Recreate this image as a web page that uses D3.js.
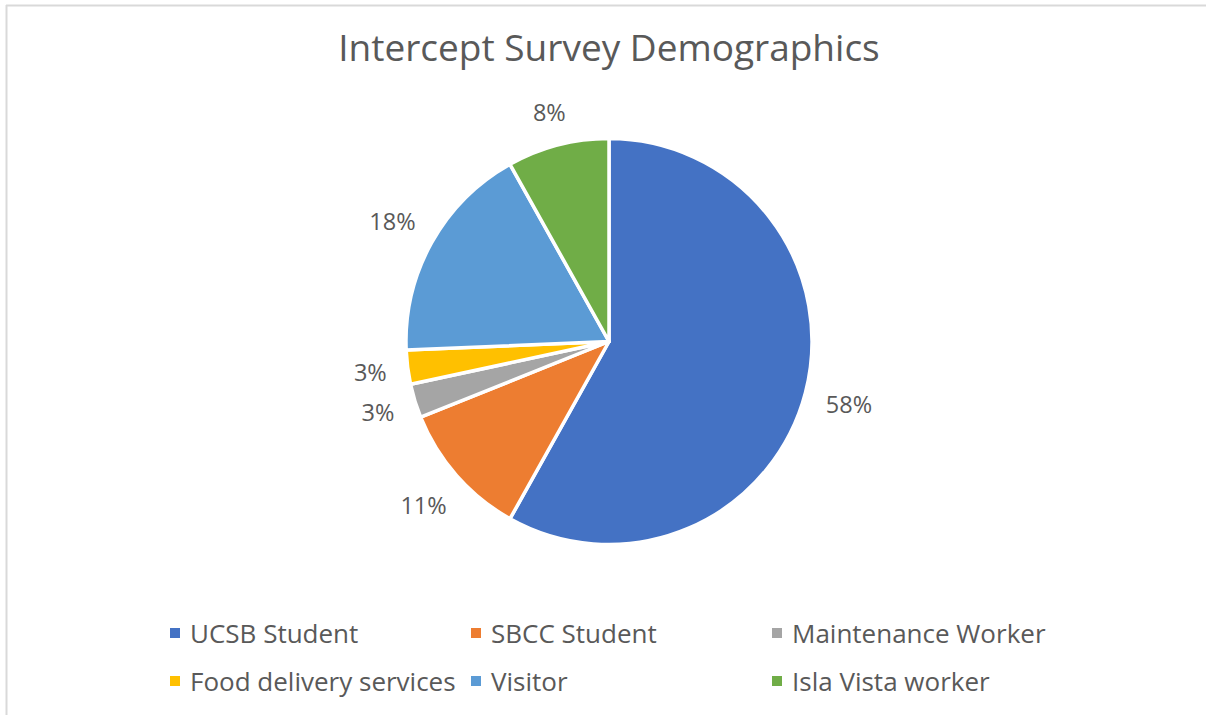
<!DOCTYPE html>
<html>
<head>
<meta charset="utf-8">
<script src="https://cdn.jsdelivr.net/npm/d3@7"></script>
<style>
  html, body { margin: 0; padding: 0; background: #fff; }
  svg { display: block; }
  text { font-family: "Open Sans", Lato, sans-serif; fill: #595959; }
</style>
</head>
<body>
<svg id="chart" width="1206" height="715"></svg>
<script>
// Respondent groups and counts from the intercept survey
const categories = ["UCSB Student", "SBCC Student", "Maintenance Worker",
                    "Food delivery services", "Visitor", "Isla Vista worker"];
const counts = [43, 8, 2, 2, 13, 6];
const colors = ["#4472C4", "#ED7D31", "#A5A5A5", "#FFC000", "#5B9BD5", "#70AD47"];
const title = "Intercept Survey Demographics";

const W = 1206, H = 715;
const svg = d3.select("#chart");

// frame lines
svg.append("line").attr("x1", 6).attr("y1", 5.5).attr("x2", W).attr("y2", 5.5)
  .attr("stroke", "#d9d9d9").attr("stroke-width", 2);
svg.append("line").attr("x1", 6.5).attr("y1", 5).attr("x2", 6.5).attr("y2", H)
  .attr("stroke", "#d9d9d9").attr("stroke-width", 2);

// title
svg.append("text")
  .attr("x", 609).attr("y", 61)
  .attr("text-anchor", "middle")
  .style("font-size", "37px")
  .text(title);

const cx = 609, cy = 341.5, R = 203;
const total = d3.sum(counts);
const data = categories.map((c, i) => ({ name: c, value: counts[i], color: colors[i] }));

const pie = d3.pie().value(d => d.value).sort(null);
const arc = d3.arc().innerRadius(0).outerRadius(R);
const arcs = pie(data);

const g = svg.append("g").attr("transform", `translate(${cx},${cy})`);
g.selectAll("path.slice")
  .data(arcs)
  .join("path")
  .attr("class", "slice")
  .attr("d", arc)
  .attr("fill", d => d.data.color)
  .attr("stroke", "#fff")
  .attr("stroke-width", 3.5)
  .attr("stroke-linejoin", "round");

// outside-end percentage labels: text box rests just outside a ring
const ring = 223;
const fmt = v => Math.round(v / total * 100) + "%";
g.selectAll("text.lbl")
  .data(arcs)
  .join("text")
  .attr("class", "lbl")
  .attr("text-anchor", "middle")
  .attr("dominant-baseline", "central")
  .style("font-size", "23.5px")
  .text(d => fmt(d.data.value))
  .each(function (d) {
    const a = (d.startAngle + d.endAngle) / 2;
    const ux = Math.sin(a), uy = -Math.cos(a);
    const bb = this.getBBox();
    const hw = bb.width / 2, hh = 10;
    const dist = ring + Math.abs(ux) * hw + Math.abs(uy) * hh;
    d3.select(this).attr("x", ux * dist).attr("y", uy * dist);
  });

// legend: three columns, two rows
const colX = d3.scalePoint().domain([0, 1, 2]).range([170, 772]);
const rowY = d3.scalePoint().domain([0, 1]).range([633, 681]);
const leg = svg.append("g").selectAll("g")
  .data(data)
  .join("g")
  .attr("transform", (d, i) => `translate(${colX(i % 3)},${rowY(Math.floor(i / 3))})`);
leg.append("rect")
  .attr("x", 0).attr("y", -5).attr("width", 10).attr("height", 10)
  .attr("fill", d => d.color);
leg.append("text")
  .attr("x", 20).attr("y", 0)
  .attr("dominant-baseline", "central")
  .style("font-size", "26px")
  .text(d => d.name);
</script>
</body>
</html>
